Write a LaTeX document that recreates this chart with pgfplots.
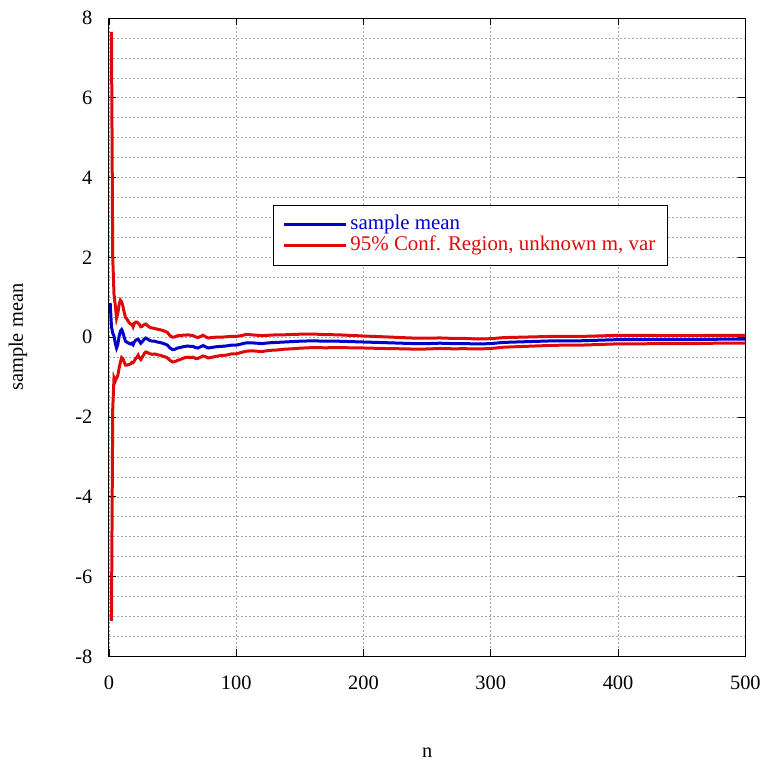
\documentclass[border=0pt]{standalone}
\usepackage{pgfplots}
\usepackage{pgfplotstable}
\pgfplotsset{compat=1.18}
\usepackage{fontspec}
\setmainfont{Liberation Serif}
\definecolor{meanblue}{RGB}{0,0,205}
\definecolor{cired}{RGB}{222,10,10}
\pgfplotstableread{
n m up lo
1 0.86 nan nan
2 0.27 7.65 -7.11
3 0.10 2.00 -1.80
4 0.03 1.08 -1.02
5 -0.15 0.80 -1.10
6 -0.27 0.48 -1.02
7 -0.18 0.60 -0.96
8 0.02 0.82 -0.78
9 0.15 0.93 -0.63
10 0.19 0.89 -0.51
11 0.12 0.78 -0.54
12 0.00 0.62 -0.62
13 -0.10 0.50 -0.70
14 -0.12 0.46 -0.70
15 -0.14 0.41 -0.69
16 -0.16 0.36 -0.68
17 -0.17 0.33 -0.67
18 -0.15 0.33 -0.63
19 -0.19 0.26 -0.64
20 -0.12 0.35 -0.59
21 -0.08 0.38 -0.54
22 -0.06 0.38 -0.50
23 -0.05 0.35 -0.45
24 -0.10 0.32 -0.52
25 -0.15 0.26 -0.56
26 -0.12 0.27 -0.51
27 -0.08 0.30 -0.46
28 -0.04 0.32 -0.40
29 -0.02 0.33 -0.37
30 -0.04 0.30 -0.38
32 -0.08 0.25 -0.41
34 -0.10 0.23 -0.43
36 -0.10 0.22 -0.42
38 -0.12 0.20 -0.44
40 -0.13 0.19 -0.45
42 -0.15 0.17 -0.47
44 -0.17 0.15 -0.49
46 -0.20 0.12 -0.52
48 -0.27 0.04 -0.58
50 -0.31 0.00 -0.62
52 -0.30 0.01 -0.61
54 -0.27 0.04 -0.58
56 -0.26 0.04 -0.56
58 -0.24 0.05 -0.53
60 -0.23 0.05 -0.51
62 -0.22 0.06 -0.50
64 -0.23 0.05 -0.51
66 -0.23 0.04 -0.50
68 -0.26 0.01 -0.53
70 -0.27 -0.01 -0.53
72 -0.24 0.02 -0.50
74 -0.21 0.05 -0.47
76 -0.24 0.01 -0.49
78 -0.27 -0.02 -0.52
80 -0.26 -0.01 -0.51
84 -0.24 0.00 -0.48
88 -0.23 0.00 -0.46
92 -0.22 0.01 -0.45
96 -0.20 0.02 -0.42
100 -0.20 0.02 -0.42
104 -0.17 0.04 -0.38
108 -0.14 0.07 -0.35
112 -0.14 0.06 -0.34
116 -0.15 0.05 -0.35
120 -0.16 0.04 -0.36
126 -0.14 0.05 -0.33
132 -0.13 0.06 -0.32
138 -0.12 0.06 -0.30
144 -0.11 0.07 -0.29
150 -0.10 0.075 -0.275
160 -0.09 0.08 -0.26
170 -0.10 0.065 -0.265
180 -0.10 0.06 -0.26
190 -0.11 0.045 -0.265
200 -0.12 0.03 -0.27
210 -0.13 0.018 -0.278
220 -0.14 0.005 -0.285
230 -0.15 -0.01 -0.29
240 -0.16 -0.022 -0.298
250 -0.16 -0.025 -0.295
260 -0.15 -0.018 -0.282
270 -0.16 -0.03 -0.29
280 -0.16 -0.032 -0.288
290 -0.17 -0.045 -0.295
300 -0.16 -0.037 -0.283
310 -0.13 -0.01 -0.25
320 -0.12 -0.002 -0.238
330 -0.11 0.006 -0.226
340 -0.10 0.014 -0.214
350 -0.09 0.022 -0.202
360 -0.09 0.02 -0.20
370 -0.09 0.019 -0.199
380 -0.08 0.028 -0.188
390 -0.07 0.037 -0.177
400 -0.06 0.046 -0.166
420 -0.06 0.044 -0.164
440 -0.06 0.042 -0.162
460 -0.06 0.04 -0.16
480 -0.05 0.048 -0.148
500 -0.05 0.046 -0.146
}\datatable
\begin{document}
\begin{tikzpicture}
\begin{axis}[
  scale only axis,
  width=637bp, height=639bp,
  xmin=0, xmax=500, ymin=-8, ymax=8,
  xtick={0,100,...,500},
  ytick={-8,-6,...,8},
  minor y tick num=3,
  grid=both,
  major grid style={gray!70, dash pattern=on 2bp off 2bp, line width=0.6bp},
  minor grid style={gray!70, dash pattern=on 2bp off 2bp, line width=0.6bp},
  major tick length=7bp,
  minor tick length=0bp,
  tick style={black, line width=0.8bp},
  axis line style={black, line width=0.9bp},
  /pgf/number format/assume math mode=true,
  ticklabel style={font=\fontsize{20.5}{24}\selectfont},
  yticklabel style={xshift=-13bp},
  xticklabel style={yshift=-16bp},
  label style={font=\fontsize{20.5}{24}\selectfont},
  xlabel={n},
  ylabel={sample mean},
  xlabel style={at={(axis description cs:0.5,0)}, anchor=base, yshift=-101bp},
  ylabel style={at={(axis description cs:0,0.5)}, anchor=center, yshift=91bp},
  legend style={
    at={(rel axis cs:0.568,0.66)}, anchor=center,
    font=\fontsize{21}{19}\selectfont,
    draw=black, line width=0.9bp,
    inner xsep=9bp, inner ysep=9.5bp,
    nodes={inner ysep=0.5bp, inner xsep=3bp, text height=14.5bp, text depth=5bp},
    cells={anchor=west},
  },
  legend image code/.code={\draw[#1, line width=3bp] (0bp,0bp) -- (62bp,0bp);},
]
\addplot[meanblue, line width=3bp] table[x=n, y=m] {\datatable};
\addlegendentry{\textcolor{meanblue}{sample mean}}
\addplot[cired, line width=3bp] table[x=n, y=up] {\datatable};
\addlegendentry{\textcolor{cired}{95\% Conf. Region, unknown m, var}}
\addplot[cired, line width=3bp, forget plot] table[x=n, y=lo] {\datatable};
\end{axis}
\path (current axis.south west) ++(-109bp,-104bp) coordinate (bbsw);
\path (current axis.north east) ++(18bp,18bp) coordinate (bbne);
\path[draw=none] (bbsw) rectangle (bbne);
\end{tikzpicture}
\end{document}
